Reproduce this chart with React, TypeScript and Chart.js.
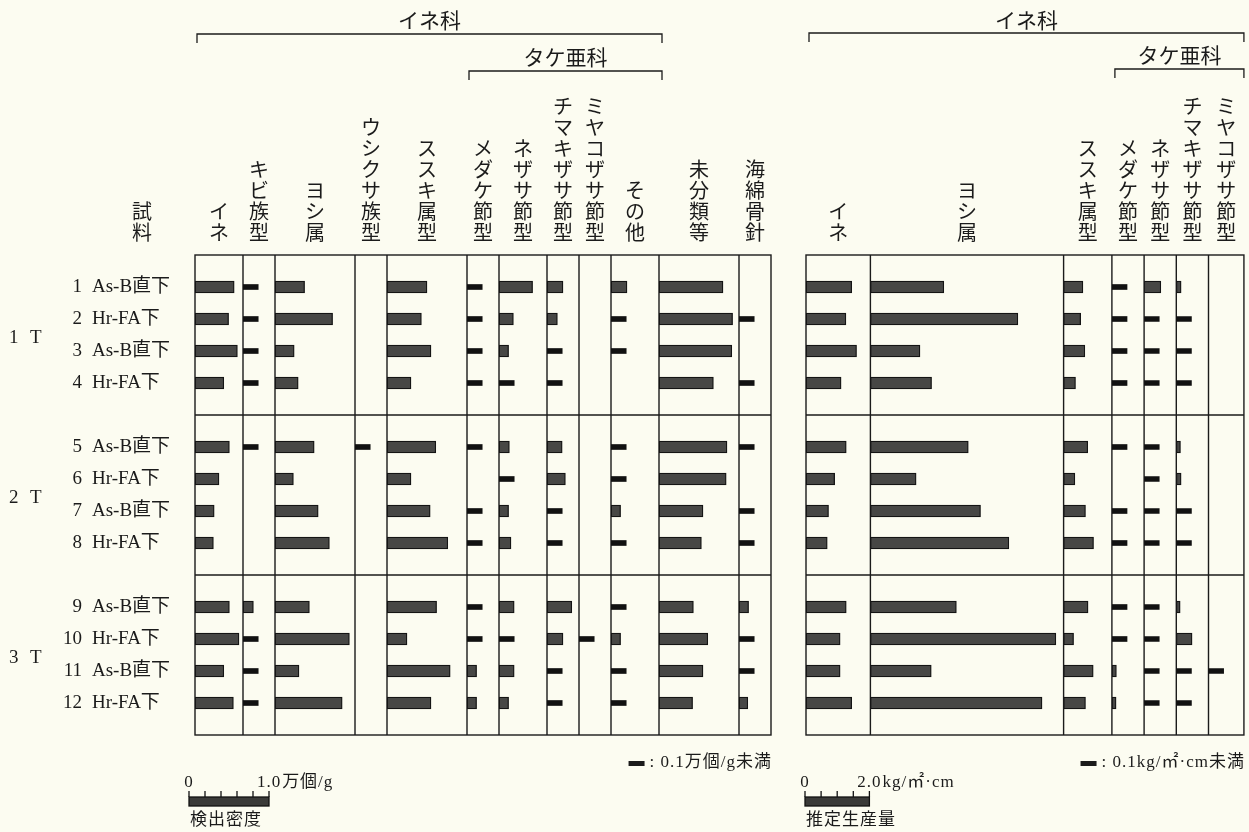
import { useEffect, useRef } from "react";
import { Chart, registerables } from "chart.js";

Chart.register(...registerables);

// "tr" = less than 0.1 (drawn as a thin dash)
const TR = "tr";

const sampleNumbers = ["1", "2", "3", "4", "5", "6", "7", "8", "9", "10", "11", "12"];
const sampleNames = [
  "As-B直下", "Hr-FA下", "As-B直下", "Hr-FA下",
  "As-B直下", "Hr-FA下", "As-B直下", "Hr-FA下",
  "As-B直下", "Hr-FA下", "As-B直下", "Hr-FA下",
];
const groupNumbers = ["1", "2", "3"];
const groupSuffix = "T";
const ROWS_PER_GROUP = 4;

// ---- Left panel: 検出密度 (万個/g)
const densityColumns = [
  "イネ", "キビ族型", "ヨシ属", "ウシクサ族型", "ススキ属型", "メダケ節型",
  "ネザサ節型", "チマキザサ節型", "ミヤコザサ節型", "その他", "未分類等", "海綿骨針",
];
const densityMax = [0.6, 0.4, 1.0, 0.4, 1.0, 0.4, 0.6, 0.4, 0.4, 0.6, 1.0, 0.4];
const dIne = [0.49, 0.42, 0.53, 0.36, 0.43, 0.30, 0.24, 0.23, 0.43, 0.55, 0.36, 0.48];
const dKibi = [TR, TR, TR, TR, TR, null, null, null, 0.13, TR, TR, TR];
const dYoshi = [0.37, 0.72, 0.24, 0.29, 0.49, 0.23, 0.54, 0.68, 0.43, 0.93, 0.30, 0.84];
const dUshikusa = [null, null, null, null, TR, null, null, null, null, null, null, null];
const dSusuki = [0.50, 0.43, 0.55, 0.30, 0.61, 0.30, 0.54, 0.76, 0.62, 0.25, 0.79, 0.55];
const dMedake = [TR, TR, TR, TR, TR, null, TR, TR, TR, TR, 0.12, 0.12];
const dNezasa = [0.42, 0.18, 0.12, TR, 0.13, TR, 0.12, 0.15, 0.19, TR, 0.19, 0.12];
const dChimaki = [0.20, 0.13, TR, TR, 0.19, 0.23, TR, TR, 0.31, 0.20, TR, TR];
const dMiyako = [null, null, null, null, null, null, null, null, null, TR, null, null];
const dSonota = [0.20, TR, TR, null, TR, TR, 0.12, TR, TR, 0.12, TR, TR];
const dMibunrui = [0.80, 0.92, 0.91, 0.68, 0.85, 0.84, 0.55, 0.53, 0.43, 0.61, 0.55, 0.42];
const dKaimen = [null, TR, null, TR, TR, null, TR, TR, 0.12, TR, TR, 0.11];
const densityValues = [
  dIne, dKibi, dYoshi, dUshikusa, dSusuki, dMedake,
  dNezasa, dChimaki, dMiyako, dSonota, dMibunrui, dKaimen,
];

// ---- Right panel: 推定生産量 (kg/m²·cm)
const productionColumns = [
  "イネ", "ヨシ属", "ススキ属型", "メダケ節型", "ネザサ節型", "チマキザサ節型", "ミヤコザサ節型",
];
const productionMax = [2.0, 6.0, 1.5, 1.0, 1.0, 1.0, 1.1];
const pIne = [1.42, 1.24, 1.57, 1.09, 1.25, 0.89, 0.70, 0.66, 1.25, 1.06, 1.06, 1.42];
const pYoshi = [2.28, 4.58, 1.54, 1.90, 3.04, 1.42, 3.42, 4.30, 2.67, 5.76, 1.89, 5.33];
const pSusuki = [0.60, 0.53, 0.66, 0.37, 0.75, 0.35, 0.68, 0.93, 0.76, 0.31, 0.92, 0.68];
const pMedake = [TR, TR, TR, TR, TR, null, TR, TR, TR, TR, 0.14, 0.13];
const pNezasa = [0.52, TR, TR, TR, TR, TR, TR, TR, TR, TR, TR, TR];
const pChimaki = [0.15, TR, TR, TR, 0.13, 0.15, TR, TR, 0.12, 0.49, TR, TR];
const pMiyako = [null, null, null, null, null, null, null, null, null, null, TR, null];
const productionValues = [pIne, pYoshi, pSusuki, pMedake, pNezasa, pChimaki, pMiyako];

// Scale-bar and legend texts
const densityScaleValue = 1.0;
const densityScaleSteps = 5;
const densityUnit = "万個/g";
const densityCaption = "検出密度";
const densityTraceText = ": 0.1万個/g未満";
const productionScaleValue = 2.0;
const productionScaleSteps = 4;
const productionUnit = "kg/㎡·cm";
const productionCaption = "推定生産量";
const productionTraceText = ": 0.1kg/㎡·cm未満";
const familyLabel = "イネ科";
const subfamilyLabel = "タケ亜科";
const sampleHeader = "試料";

// trace dash length, in each panel's data units
const DENSITY_TRACE = 0.19;
const PRODUCTION_TRACE = 0.47;

// ---- styling / layout constants
const BG = "#fcfcf1";
const INK = "#1b1b1b";
const BAR_FILL = "#474745";
const BAR_EDGE = "#141414";
const DENSITY_PX = 80; // px per 1.0 万個/g
const PRODUCTION_PX = 32.2; // px per 1.0 kg
const GAP_PX = 35;
const AREA_LEFT = 195;
const AREA_TOP = 255;
const AREA_BOTTOM = 735;
const W = 1249;
const H = 832;
const FONT = '"Liberation Serif", "Noto Sans CJK JP", serif';

// slot layout of the category axis: blank, 4 samples, blank, 4, blank, 4, blank
const slotLabels: string[] = [];
groupNumbers.forEach((_, g) => {
  slotLabels.push("");
  for (let k = 0; k < ROWS_PER_GROUP; k++) {
    const i = g * ROWS_PER_GROUP + k;
    slotLabels.push(`${sampleNumbers[i]} ${sampleNames[i]}`);
  }
});
slotLabels.push("");
const slotOf = (i: number) => 1 + i + Math.floor(i / ROWS_PER_GROUP);
const groupBreakSlots = groupNumbers.slice(1).map((_, g) => (g + 1) * (ROWS_PER_GROUP + 1));

function slotData(values: any[], pick: (v: any) => number | null) {
  const out: (number | null)[] = slotLabels.map(() => null);
  values.forEach((v, i) => {
    out[slotOf(i)] = pick(v);
  });
  return out;
}

function panelDatasets(prefix: string, columns: string[], values: any[][], trace: number) {
  return columns.flatMap((name, i) => [
    {
      type: "bar",
      label: name,
      xAxisID: prefix + i,
      yAxisID: "y",
      data: slotData(values[i], (v) => (typeof v === "number" ? v : null)),
      backgroundColor: BAR_FILL,
      borderColor: BAR_EDGE,
      borderWidth: 1.3,
      borderSkipped: false,
      barThickness: 12,
      grouped: false,
    },
    {
      type: "bar",
      label: name + "（0.1未満）",
      xAxisID: prefix + i,
      yAxisID: "y",
      data: slotData(values[i], (v) => (v === TR ? trace : null)),
      backgroundColor: "#111111",
      borderWidth: 0,
      barThickness: 5,
      grouped: false,
    },
  ]);
}

function columnAxis(max: number, pxPerUnit: number) {
  return {
    type: "linear",
    position: "bottom",
    stack: "columns",
    stackWeight: max * pxPerUnit,
    min: 0,
    max,
    display: true,
    grid: { display: false, drawTicks: false },
    border: { display: false },
    ticks: { display: false },
  };
}

const densityIds = densityColumns.map((_, i) => "d" + i);
const productionIds = productionColumns.map((_, i) => "p" + i);

const decorPlugin = {
  id: "decor",
  beforeDatasetsDraw(chart: any) {
    const { ctx, chartArea } = chart;
    const { top, bottom } = chartArea;
    const y = chart.scales.y;
    ctx.save();
    ctx.strokeStyle = INK;
    ctx.lineWidth = 1.4;
    for (const ids of [densityIds, productionIds]) {
      const l = chart.scales[ids[0]].left;
      const r = chart.scales[ids[ids.length - 1]].right;
      ctx.strokeRect(l, top, r - l, bottom - top);
      ctx.beginPath();
      ids.slice(1).forEach((id) => {
        const x = chart.scales[id].left;
        ctx.moveTo(x, top);
        ctx.lineTo(x, bottom);
      });
      groupBreakSlots.forEach((slot) => {
        const py = y.getPixelForValue(slot);
        ctx.moveTo(l, py);
        ctx.lineTo(r, py);
      });
      ctx.stroke();
    }
    ctx.restore();
  },
  afterDraw(chart: any) {
    const { ctx, chartArea } = chart;
    const y = chart.scales.y;
    const S = chart.scales;
    ctx.save();
    ctx.fillStyle = INK;
    ctx.strokeStyle = INK;
    ctx.lineWidth = 1.3;
    ctx.textBaseline = "middle";
    ctx.textAlign = "center";

    // vertical column headers
    const HEADER_BOTTOM = 235;
    const PITCH = 21;
    ctx.font = `20px ${FONT}`;
    const drawVertical = (text: string, cx: number) => {
      const chars = [...text];
      chars.forEach((c, k) => ctx.fillText(c, cx, HEADER_BOTTOM - (chars.length - 1 - k) * PITCH));
    };
    densityIds.forEach((id, i) => drawVertical(densityColumns[i], (S[id].left + S[id].right) / 2));
    productionIds.forEach((id, i) => drawVertical(productionColumns[i], (S[id].left + S[id].right) / 2));
    drawVertical(sampleHeader, chartArea.left - 53);

    // brackets
    const bracket = (l: number, r: number, yLine: number, label: string, yText: number) => {
      ctx.beginPath();
      ctx.moveTo(l, yLine + 9);
      ctx.lineTo(l, yLine);
      ctx.lineTo(r, yLine);
      ctx.lineTo(r, yLine + 9);
      ctx.stroke();
      ctx.font = `21px ${FONT}`;
      ctx.fillText(label, (l + r) / 2, yText);
    };
    bracket(S.d0.left + 2, S.d9.right + 3, 34, familyLabel, 22);
    bracket(S.d5.left + 2, S.d9.right + 3, 71, subfamilyLabel, 59);
    bracket(S.p0.left + 3, S.p6.right, 33, familyLabel, 22);
    bracket(S.p3.left + 3, S.p6.right, 69, subfamilyLabel, 57);

    // sample labels
    ctx.font = `19px ${FONT}`;
    sampleNumbers.forEach((n, i) => {
      const py = y.getPixelForValue(slotOf(i));
      ctx.textAlign = "right";
      ctx.fillText(n, chartArea.left - 113, py);
      ctx.textAlign = "left";
      ctx.fillText(sampleNames[i], chartArea.left - 103, py);
    });
    // group labels
    groupNumbers.forEach((g, k) => {
      const py = y.getPixelForValue(k * (ROWS_PER_GROUP + 1) + (ROWS_PER_GROUP + 1) / 2) + 3;
      ctx.textAlign = "left";
      ctx.fillText(g, 9, py);
      ctx.fillText(groupSuffix, 30, py);
    });

    // trace legends
    ctx.font = `17px ${FONT}`;
    (ctx as any).letterSpacing = "1px";
    const traceLegend = (right: number, text: string) => {
      ctx.textAlign = "right";
      ctx.fillText(text, right + 1, 763);
      const w = ctx.measureText(text).width;
      ctx.fillRect(right - w - 20, 761, 16, 5);
    };
    traceLegend(S.d11.right, densityTraceText);
    traceLegend(S.p6.right, productionTraceText);

    // scale bars
    const scaleBar = (
      x0: number,
      axis: any,
      value: number,
      steps: number,
      unit: string,
      caption: string
    ) => {
      const len = axis.getPixelForValue(value) - axis.getPixelForValue(0);
      const x1 = x0 + len;
      ctx.fillStyle = "#3a3a38";
      ctx.fillRect(x0, 797, len, 9);
      ctx.strokeStyle = "#111";
      ctx.lineWidth = 1.3;
      ctx.strokeRect(x0, 797, len, 9);
      ctx.beginPath();
      for (let k = 0; k <= steps; k++) {
        const x = x0 + (len * k) / steps;
        ctx.moveTo(x, 791);
        ctx.lineTo(x, 797);
      }
      ctx.stroke();
      ctx.fillStyle = INK;
      ctx.font = `17px ${FONT}`;
      ctx.textAlign = "center";
      ctx.fillText("0", x0, 783);
      const vt = value.toFixed(1);
      ctx.fillText(vt, x1, 783);
      ctx.textAlign = "left";
      ctx.fillText(unit, x1 + ctx.measureText(vt).width / 2 + 1, 783);
      ctx.font = `17px ${FONT}`;
      ctx.fillText(caption, x0 + 1, 821);
    };
    scaleBar(S.d0.left - 6, S.d2, densityScaleValue, densityScaleSteps, densityUnit, densityCaption);
    scaleBar(S.p0.left - 1, S.p1, productionScaleValue, productionScaleSteps, productionUnit, productionCaption);
    (ctx as any).letterSpacing = "0px";

    ctx.restore();
  },
};

export default function App() {
  const ref = useRef<HTMLCanvasElement | null>(null);

  useEffect(() => {
    if (!ref.current) return;
    const scales: any = {
      y: { type: "category", labels: slotLabels, offset: false, display: false },
    };
    densityMax.forEach((m, i) => {
      scales[densityIds[i]] = columnAxis(m, DENSITY_PX);
    });
    scales.gap = columnAxis(1, GAP_PX);
    productionMax.forEach((m, i) => {
      scales[productionIds[i]] = columnAxis(m, PRODUCTION_PX);
    });
    const totalWidth =
      densityMax.reduce((a, b) => a + b, 0) * DENSITY_PX +
      GAP_PX +
      productionMax.reduce((a, b) => a + b, 0) * PRODUCTION_PX;

    const chart = new Chart(ref.current, {
      type: "bar",
      data: {
        labels: slotLabels,
        datasets: [
          ...panelDatasets("d", densityColumns, densityValues, DENSITY_TRACE),
          ...panelDatasets("p", productionColumns, productionValues, PRODUCTION_TRACE),
        ] as any,
      },
      options: {
        indexAxis: "y",
        responsive: false,
        animation: false,
        events: [],
        devicePixelRatio: 1,
        layout: {
          padding: {
            left: AREA_LEFT,
            top: AREA_TOP,
            bottom: H - AREA_BOTTOM,
            right: W - AREA_LEFT - totalWidth,
          },
        },
        plugins: { legend: { display: false }, tooltip: { enabled: false } },
        scales,
      } as any,
      plugins: [decorPlugin],
    });
    return () => chart.destroy();
  }, []);

  return (
    <div style={{ position: "fixed", left: 0, top: 0, width: W, height: H, background: BG }}>
      <canvas ref={ref} width={W} height={H} style={{ display: "block" }} />
    </div>
  );
}
